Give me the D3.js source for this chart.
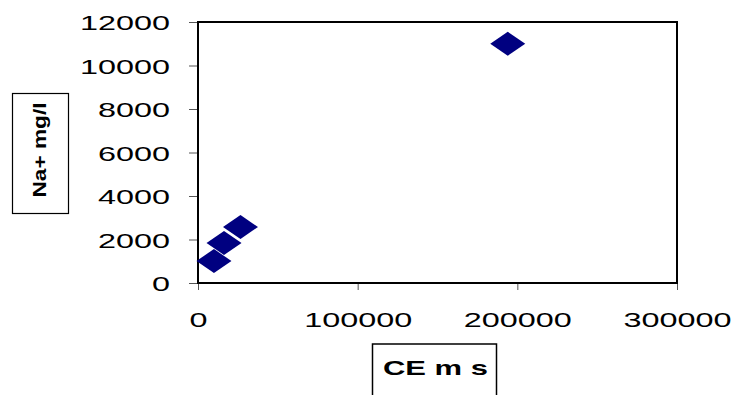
<!DOCTYPE html>
<html>
<head>
<meta charset="utf-8">
<script src="https://cdn.jsdelivr.net/npm/d3@7"></script>
<style>
  html, body { margin: 0; padding: 0; background: #fff; }
  svg { display: block; }
  text { font-family: "Liberation Sans", Arial, sans-serif; fill: #000; }
</style>
</head>
<body>
<svg id="chart" width="736" height="395"></svg>
<script>
// Conductivity vs sodium samples
const ceValues = [10000, 16300, 26600, 194000];
const naValues = [1010, 1840, 2575, 11000];
const xTicks = [0, 100000, 200000, 300000];
const yTicks = [0, 2000, 4000, 6000, 8000, 10000, 12000];
const xTitle = "CE m s";
const yTitle = "Na+ mg/l";

const svg = d3.select("#chart");
const plot = { left: 198, right: 677, top: 22, bottom: 283 };

const x = d3.scaleLinear().domain([0, 300000]).range([plot.left, plot.right]);
const y = d3.scaleLinear().domain([0, 12000]).range([plot.bottom, plot.top]);

const digitW = 18; // wide Excel-style numerals

// y axis ticks and labels
const yAxis = svg.append("g")
  .attr("transform", `translate(${plot.left},0)`)
  .call(d3.axisLeft(y).tickValues(yTicks).tickSize(9).tickPadding(0).tickFormat(""));
yAxis.select(".domain").remove();
yAxis.selectAll(".tick line").attr("stroke", "#555").attr("stroke-width", 1);
yAxis.selectAll(".tick").append("text")
  .attr("x", 170 - plot.left)
  .attr("y", 0)
  .attr("dy", "0.36em")
  .attr("text-anchor", "end")
  .attr("font-size", 21)
  .attr("textLength", d => String(d).length * digitW)
  .attr("lengthAdjust", "spacingAndGlyphs")
  .text(d => d);

// x axis ticks and labels
const xAxis = svg.append("g")
  .attr("transform", `translate(0,${plot.bottom})`)
  .call(d3.axisBottom(x).tickValues(xTicks).tickSize(7).tickPadding(0).tickFormat(""));
xAxis.select(".domain").remove();
xAxis.selectAll(".tick line").attr("stroke", "#555").attr("stroke-width", 1);
xAxis.selectAll(".tick").append("text")
  .attr("x", 0)
  .attr("y", 327 - plot.bottom)
  .attr("text-anchor", "middle")
  .attr("font-size", 21)
  .attr("textLength", d => String(d).length * digitW)
  .attr("lengthAdjust", "spacingAndGlyphs")
  .text(d => d);

// plot frame
svg.append("rect")
  .attr("x", plot.left).attr("y", plot.top)
  .attr("width", plot.right - plot.left).attr("height", plot.bottom - plot.top)
  .attr("fill", "none").attr("stroke", "#000").attr("stroke-width", 2);

// diamond markers
const dw = 17.5, dh = 12;
svg.append("g").selectAll("path")
  .data(ceValues.map((c, i) => [c, naValues[i]]))
  .join("path")
  .attr("d", d => {
    const cx = x(d[0]), cy = y(d[1]);
    return `M${cx - dw},${cy}L${cx},${cy - dh}L${cx + dw},${cy}L${cx},${cy + dh}Z`;
  })
  .attr("fill", "#000080");

// y axis title in a box
svg.append("rect")
  .attr("x", 12.5).attr("y", 93.5).attr("width", 56).attr("height", 120)
  .attr("fill", "#fff").attr("stroke", "#000").attr("stroke-width", 1.2);
svg.append("text")
  .attr("transform", "translate(46,150) rotate(-90)")
  .attr("text-anchor", "middle")
  .attr("font-size", 18)
  .attr("font-weight", "bold")
  .attr("textLength", 95)
  .attr("lengthAdjust", "spacingAndGlyphs")
  .text(yTitle);

// x axis title in a box
svg.append("rect")
  .attr("x", 372.5).attr("y", 344).attr("width", 124).attr("height", 60)
  .attr("fill", "#fff").attr("stroke", "#000").attr("stroke-width", 1.5);
svg.append("text")
  .attr("x", 435.5).attr("y", 375)
  .attr("text-anchor", "middle")
  .attr("font-size", 21)
  .attr("font-weight", "bold")
  .attr("textLength", 105)
  .attr("lengthAdjust", "spacingAndGlyphs")
  .text(xTitle);
</script>
</body>
</html>
